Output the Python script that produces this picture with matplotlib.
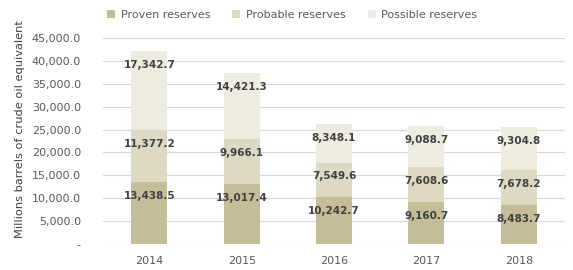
import matplotlib
matplotlib.use("Agg")
from matplotlib import pyplot as plt
from matplotlib.ticker import FuncFormatter

years = ["2014", "2015", "2016", "2017", "2018"]
proven = [13438.5, 13017.4, 10242.7, 9160.7, 8483.7]
probable = [11377.2, 9966.1, 7549.6, 7608.6, 7678.2]
possible = [17342.7, 14421.3, 8348.1, 9088.7, 9304.8]

series = [("Proven reserves", proven, "#C4BD97"),
          ("Probable reserves", probable, "#DDD9C3"),
          ("Possible reserves", possible, "#EEECE1")]

plt.rcParams['font.family'] = ['DejaVu Sans']

fig = plt.figure(figsize=(5.73, 2.70), dpi=100)
ax = fig.add_axes([0.18, 0.0963, 0.806, 0.763])

x = list(range(len(years)))
bottom = [0.0] * len(years)
handles = []
for name, vals, col in series:
    bars = ax.bar(x, vals, width=0.39, bottom=bottom, color=col, label=name, zorder=2)
    handles.append(bars)
    for i, v in enumerate(vals):
        top = bottom[i] + v
        ax.annotate(f"{v:,.1f}", (x[i], top), xytext=(0, -10), textcoords="offset points",
                    ha="center", va="center", fontsize=7.5, fontweight="bold",
                    color="#404040", zorder=3)
    bottom = [b + v for b, v in zip(bottom, vals)]

ax.set_xlim(-0.5, 4.5)
ax.set_ylim(0, 45000)
ax.set_yticks(range(0, 45001, 5000))
ax.yaxis.set_major_formatter(FuncFormatter(lambda v, p: "-" if v == 0 else f"{v:,.1f}"))
ax.set_xticks(x)
ax.set_xticklabels(years)
ax.grid(axis="y", color="#D9D9D9", linewidth=0.8, zorder=0)
for s in ax.spines.values():
    s.set_visible(False)
ax.tick_params(axis="y", length=0, labelsize=8, colors="#595959", pad=16)
ax.tick_params(axis="x", length=0, labelsize=8, colors="#595959", pad=9)
ax.set_ylabel("Millions barrels of crude oil equivalent", fontsize=8.2, color="#404040")
ax.yaxis.set_label_coords(-0.17, 0.56)

fig.legend(handles=handles, loc="upper center", bbox_to_anchor=(0.51, 1.0), ncol=3,
           frameon=False, fontsize=8, handlelength=0.7, handleheight=0.7,
           columnspacing=2.0, handletextpad=0.5, labelcolor="#595959")

fig.savefig("out.png", dpi=100)
